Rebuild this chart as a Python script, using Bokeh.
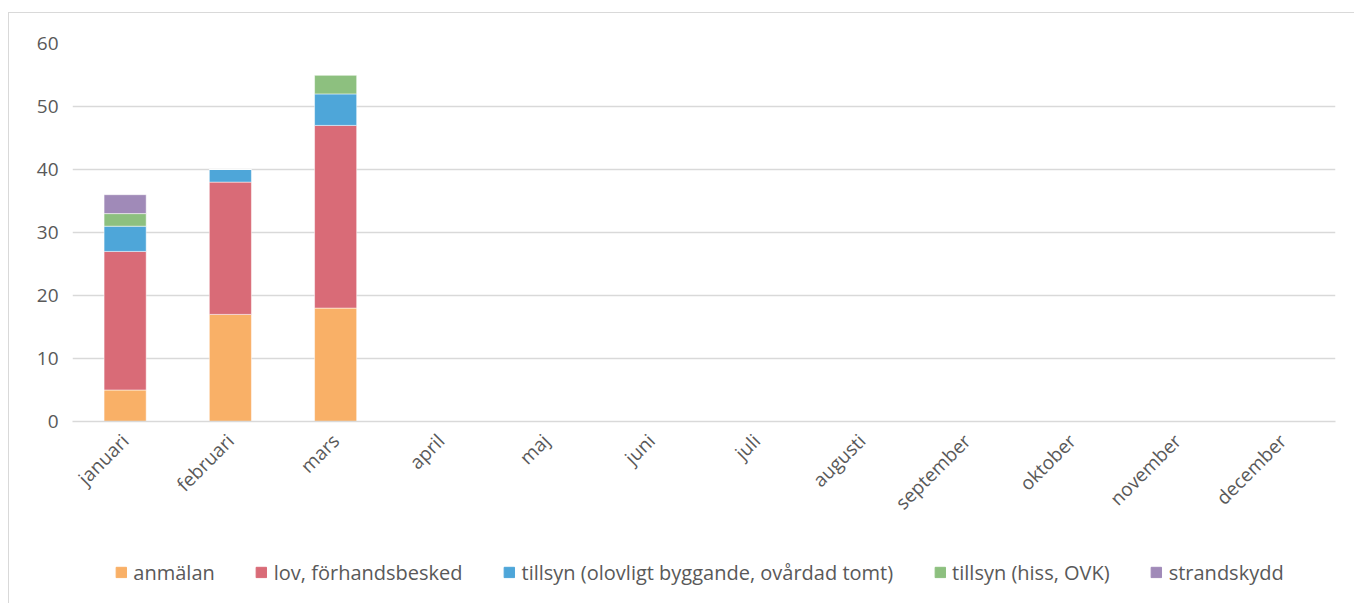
import math
from bokeh.plotting import figure
from bokeh.layouts import column
from bokeh.models import ColumnDataSource, Legend, LegendItem, FixedTicker
from bokeh.embed import file_html
from bokeh.resources import INLINE

months = ["januari", "februari", "mars", "april", "maj", "juni", "juli",
          "augusti", "september", "oktober", "november", "december"]
series = ["anmälan", "lov, förhandsbesked", "tillsyn (olovligt byggande, ovårdad tomt)",
          "tillsyn (hiss, OVK)", "strandskydd"]
anmalan = [5, 17, 18, 0, 0, 0, 0, 0, 0, 0, 0, 0]
lov = [22, 21, 29, 0, 0, 0, 0, 0, 0, 0, 0, 0]
tillsyn_olovligt = [4, 2, 5, 0, 0, 0, 0, 0, 0, 0, 0, 0]
tillsyn_hiss = [2, 0, 3, 0, 0, 0, 0, 0, 0, 0, 0, 0]
strandskydd = [3, 0, 0, 0, 0, 0, 0, 0, 0, 0, 0, 0]
y_ticks = [0, 10, 20, 30, 40, 50, 60]

colors = ["#F9B067", "#D96B77", "#4EA6D9", "#8DC07F", "#A08AB8"]
keys = ["s0", "s1", "s2", "s3", "s4"]

source = ColumnDataSource(data=dict(month=months, s0=anmalan, s1=lov, s2=tillsyn_olovligt,
                                    s3=tillsyn_hiss, s4=strandskydd))

FONT = "Open Sans"
GRAY = "#595959"

p = figure(x_range=months, y_range=(0, 60), output_backend="svg", toolbar_location=None,
           frame_width=1263, frame_height=378, min_border_left=63, min_border_top=30,
           min_border_right=19, min_border_bottom=100)

p.vbar_stack(keys, x="month", width=0.4, color=colors, source=source,
             line_color="white", line_width=0.5)

p.outline_line_color = None
p.xgrid.grid_line_color = None
p.ygrid.grid_line_color = "#d9d9d9"
p.ygrid.grid_line_width = 1.5
p.yaxis.ticker = FixedTicker(ticks=y_ticks)
p.yaxis.axis_line_color = None
p.yaxis.major_tick_line_color = None
p.yaxis.minor_tick_line_color = None
p.yaxis.major_label_text_font = FONT
p.yaxis.major_label_text_font_size = "19px"
p.yaxis.major_label_text_color = GRAY
p.yaxis.major_label_standoff = 8

p.xaxis.axis_line_color = "#d9d9d9"
p.xaxis.axis_line_width = 1.5
p.xaxis.major_tick_line_color = None
p.xaxis.minor_tick_line_color = None
p.xaxis.major_label_orientation = math.pi / 4
p.xaxis.major_label_text_font = FONT
p.xaxis.major_label_text_font_size = "19px"
p.xaxis.major_label_text_color = GRAY
p.xaxis.major_label_standoff = 10
p.x_range.range_padding = 0

# legend in its own strip below the chart (swatch renderers lie outside the visible range)
lf = figure(width=1345, height=81, output_backend="svg", toolbar_location=None,
            x_axis_type=None, y_axis_type=None, x_range=(0, 1), y_range=(0, 1),
            min_border=0, min_border_top=8, min_border_right=28)
lf.outline_line_color = None
lf.grid.grid_line_color = None
legend_src = ColumnDataSource(data=dict(x=[-5], top=[-5]))
items = []
for s, c in zip(series, colors):
    r = lf.vbar(x="x", top="top", bottom=-6, width=0.1, fill_color=c, line_color=c,
                source=legend_src)
    items.append(LegendItem(label=s, renderers=[r]))
legend = Legend(items=items, orientation="horizontal", location="center",
                label_text_font=FONT, label_text_font_size="20px", label_text_color=GRAY,
                glyph_width=13, glyph_height=13, spacing=40, label_standoff=6,
                border_line_color=None, background_fill_alpha=0, margin=0, padding=2)
lf.add_layout(legend, "center")

layout = column(p, lf, spacing=0,
                styles={"border-left": "1px solid #d9d9d9", "border-top": "1px solid #d9d9d9",
                        "margin-top": "12px", "margin-left": "8px"})

open("out.html", "w").write(file_html(layout, INLINE))
